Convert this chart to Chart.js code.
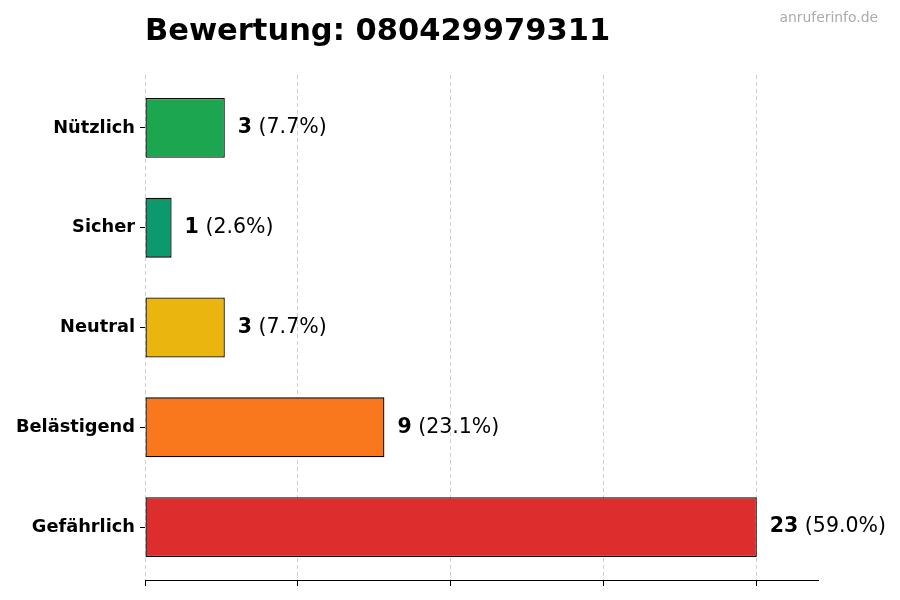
<!DOCTYPE html>
<html>
<head>
<meta charset="utf-8">
<title>Bewertung: 080429979311</title>
<script src="https://cdn.jsdelivr.net/npm/chart.js@4.4.1/dist/chart.umd.min.js"></script>
<style>
    html, body { margin: 0; padding: 0; background: #fff; }
    #wrap { width: 900px; height: 600px; position: relative; }
</style>
</head>
<body>
<div id="wrap"><canvas id="ratingChart"></canvas></div>
<script>
// data
const categories = ['Nützlich', 'Sicher', 'Neutral', 'Belästigend', 'Gefährlich'];
const counts = [3, 1, 3, 9, 23];
const barColors = ['#16a34a', '#059669', '#eab308', '#f97316', '#dc2626'];
const xTicks = [0, 5.75, 11.5, 17.25, 23];
const xMax = 25.3;
const chartTitle = 'Bewertung: 080429979311';
const watermark = 'anruferinfo.de';

const FONT = '"DejaVu Sans", "Liberation Sans", sans-serif';
const total = counts.reduce((a, b) => a + b, 0);

function withAlpha(hex, a) {
    const n = parseInt(hex.slice(1), 16);
    return `rgba(${(n >> 16) & 255}, ${(n >> 8) & 255}, ${n & 255}, ${a})`;
}

// title, watermark and the "n (p%)" labels next to each bar
const textPlugin = {
    id: 'textPlugin',
    afterDraw(chart) {
        const ctx = chart.ctx;
        ctx.save();
        ctx.fillStyle = '#000';
        ctx.textBaseline = 'alphabetic';
        ctx.textAlign = 'left';
        ctx.font = `bold 30.5px ${FONT}`;
        ctx.fillText(chartTitle, chart.chartArea.left, 40);

        ctx.fillStyle = '#aaaaaa';
        ctx.textAlign = 'right';
        ctx.font = `13.9px ${FONT}`;
        ctx.fillText(watermark, 878, 22);

        const meta = chart.getDatasetMeta(0);
        ctx.textAlign = 'left';
        ctx.textBaseline = 'middle';
        meta.data.forEach((bar, i) => {
            const v = counts[i];
            const pct = ' (' + (v / total * 100).toFixed(1) + '%)';
            let x = bar.x + 13;
            ctx.fillStyle = '#000';
            ctx.font = `bold 20.5px ${FONT}`;
            ctx.fillText(String(v), x, bar.y);
            x += ctx.measureText(String(v)).width;
            ctx.font = `20.5px ${FONT}`;
            ctx.fillText(pct, x, bar.y);
        });
        ctx.restore();
    }
};

const ctx = document.getElementById('ratingChart').getContext('2d');
new Chart(ctx, {
    type: 'bar',
    data: {
        datasets: [{
            data: counts.map((v, i) => ({ x: v, y: i })),
            backgroundColor: barColors.map(c => withAlpha(c, 0.97)),
            borderColor: '#000',
            borderWidth: 1.3,
            borderSkipped: false,
            barPercentage: 0.6,
            categoryPercentage: 1.0
        }]
    },
    options: {
        indexAxis: 'y',
        responsive: true,
        maintainAspectRatio: false,
        animation: false,
        layout: { padding: { left: 0, right: 82, top: 75, bottom: 14 } },
        plugins: {
            legend: { display: false },
            tooltip: { enabled: false },
            title: { display: false }
        },
        scales: {
            x: {
                type: 'linear',
                min: 0,
                max: xMax,
                afterBuildTicks: scale => { scale.ticks = xTicks.map(v => ({ value: v })); },
                ticks: { display: false },
                grid: {
                    color: '#d0d0d0',
                    lineWidth: 1,
                    drawTicks: true,
                    tickLength: 6,
                    tickColor: '#000',
                    tickWidth: 1
                },
                border: { display: true, color: '#000', width: 1, dash: [4, 3] }
            },
            y: {
                type: 'linear',
                reverse: true,
                offset: false,
                min: -0.53,
                max: categories.length - 1 + 0.53,
                afterBuildTicks: scale => { scale.ticks = categories.map((c, i) => ({ value: i })); },
                afterFit: scale => { scale.width = 145; },
                ticks: {
                    color: '#000',
                    padding: 5,
                    callback: v => categories[v],
                    font: { family: FONT, size: 17.8, weight: 'bold' }
                },
                grid: {
                    offset: false,
                    drawOnChartArea: false,
                    drawTicks: true,
                    tickLength: 5,
                    tickColor: '#000',
                    tickWidth: 1
                },
                border: { display: false }
            }
        }
    },
    plugins: [textPlugin]
});
</script>
</body>
</html>
